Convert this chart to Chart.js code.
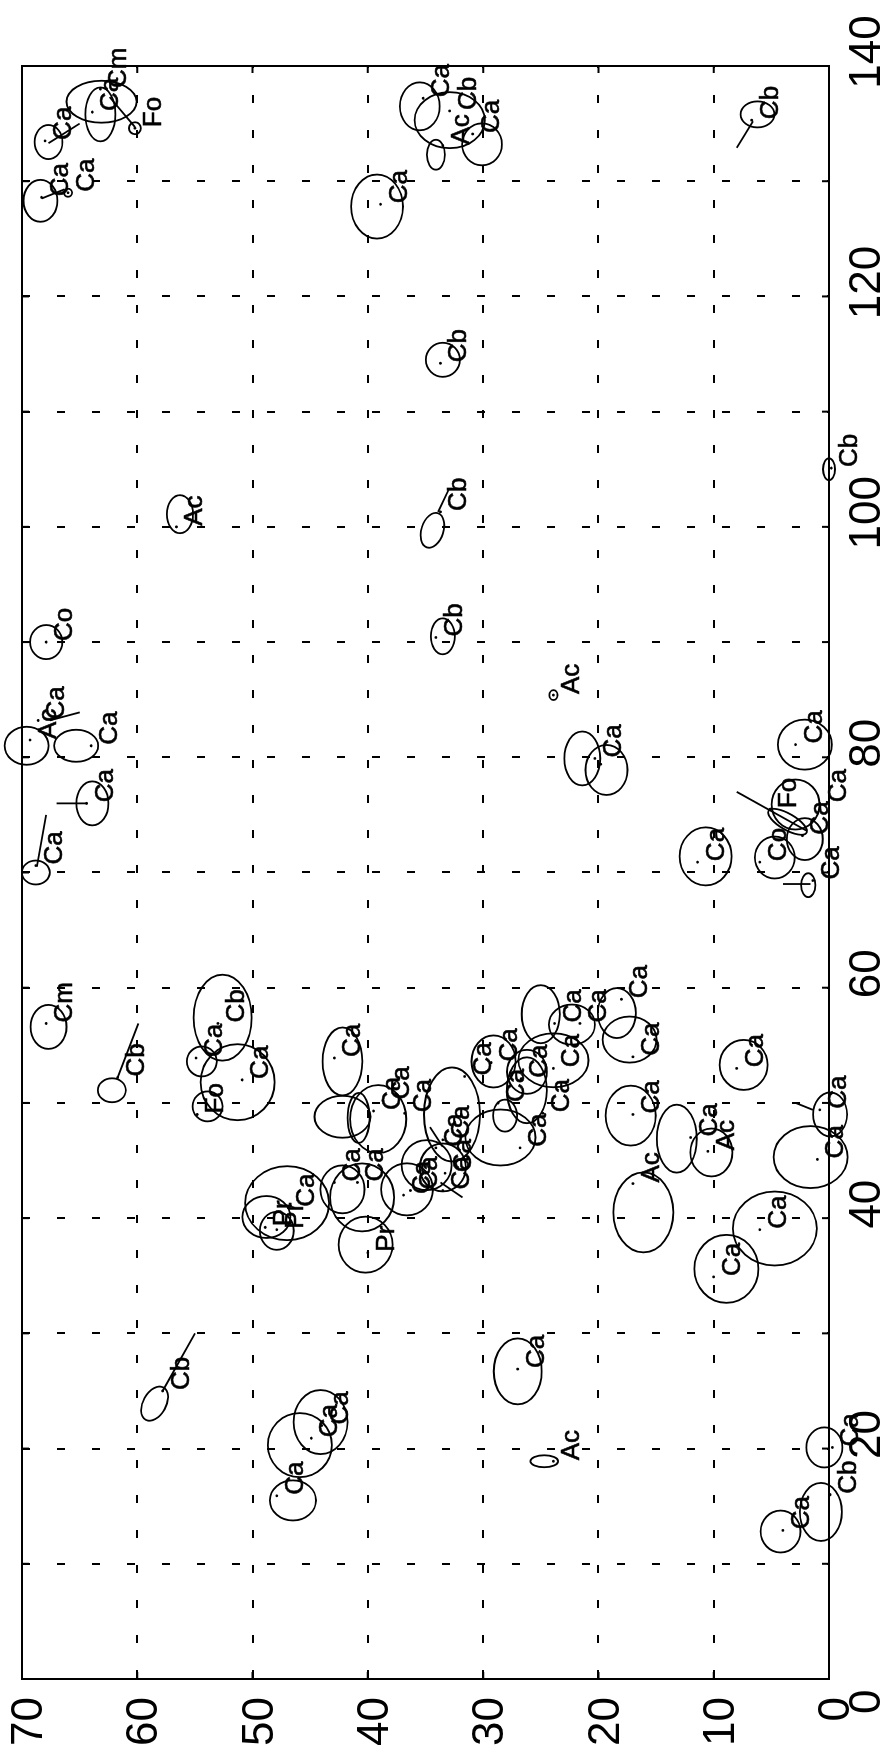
<!DOCTYPE html>
<html>
<head>
<meta charset="utf-8">
<script src="https://cdn.jsdelivr.net/npm/chart.js@4.4.1/dist/chart.umd.min.js"></script>
<style>
  html, body { margin: 0; padding: 0; background: #fff; overflow: hidden; }
  body { width: 889px; height: 1753px; position: relative; }
  /* the plot is drawn upright and turned a quarter turn, like the scanned figure */
  #wrap { position: absolute; left: 0; top: 0; width: 1753px; height: 889px;
          transform-origin: 0 0; transform: translate(0px, 1753px) rotate(-90deg); }
</style>
</head>
<body>
<div id="wrap"><canvas id="chart" width="1753" height="889"></canvas></div>
<script>
// storm centres: label, x (0-140), y (0-70)
const stormLabels = [
  'Cm','Ca','Fo','Ca','Ca','Ca','Ca',
  'Ca','Cb','Ca','Ac','Cb','Cb',
  'Ac','Cb','Co','Cb','Ac','Ca','Ca','Ca','Ca','Ac',
  'Ca','','Ca','Fo','Ca','Ca','Co','Ca','Ca',
  'Cm','Cb','Cb','Ca','Ca','Fo','Ca','Ca','Ca','Ca','Ca','Pr','Pr','Pr','Ca','Ca','Ca',
  'Ca','Ca','Ca','Ca','Ca','Ca','Ca','Ac','Ac','Ca','Ca','Ca','Ca',
  'Ca','Ca','Ca','Ca','Ca','Ca','Ca','Ca','Ca','Ca','Ca','Ca',
  'Cb','Ca','Ca','Ca','Ca','Ac','Ca','Cb','Ca','Cb'
];
const stormX = [
  138.0,136.0,134.6,133.5,128.6,129.0,128.0,
  137.2,136.1,134.1,133.1,135.3,114.2,
  100.0,101.3,90.0,90.4,81.5,83.2,81.0,76.0,70.6,85.4,
  79.9,79.4,81.1,75.5,76.0,73.2,70.9,69.3,70.9,
  56.9,52.2,56.9,53.9,52.0,49.0,53.9,49.3,50.2,49.1,40.9,39.2,39.0,37.0,43.1,43.1,42.0,
  56.9,56.9,59.0,54.0,53.0,49.0,47.0,45.8,43.0,49.4,45.1,39.0,34.9,
  53.0,53.5,52.3,52.1,50.0,49.1,46.1,46.1,46.8,43.9,42.4,42.4,
  25.0,22.0,20.9,15.9,26.9,18.9,20.1,16.0,12.9,105.1
];
const stormY = [
  63.2,63.9,60.2,68.0,68.3,66.0,38.9,
  35.2,32.9,30.9,33.5,6.7,33.7,
  56.6,33.7,67.9,34.1,69.3,68.6,64.0,64.4,68.8,23.9,
  20.3,19.8,2.9,5.1,0.8,2.3,6.0,1.4,11.4,
  67.9,61.7,53.0,54.9,50.9,54.8,42.9,39.5,38.7,36.8,46.9,48.9,47.9,40.0,42.9,40.9,36.9,
  23.8,21.6,18.0,17.0,8.0,17.0,12.0,10.5,17.0,0.8,1.0,6.0,10.0,
  23.9,29.3,31.6,26.7,28.7,24.8,26.8,34.1,33.5,33.3,36.3,33.5,
  57.8,44.0,44.9,47.9,27.0,23.9,-0.3,-0.1,4.0,-0.2
];

// outline of each storm: centre, half-widths in data units, tilt (deg)
const outlineX = [
  136.9,135.8,134.6,133.4,128.3,129.0,127.8,
  136.5,135.3,133.2,132.3,135.8,114.5,
  101.1,99.7,90.0,90.5,81.0,null,81.0,76.0,70.0,85.4,
  79.9,78.9,81.1,74.4,75.9,72.9,71.3,68.9,71.4,
  56.6,51.1,57.4,53.6,51.8,49.7,53.6,48.8,48.7,48.6,41.3,40.1,38.9,37.7,42.5,41.8,42.5,
  57.7,56.8,57.8,55.5,53.3,48.9,46.9,45.7,40.5,49.0,45.3,39.1,35.6,
  53.7,53.6,49.0,52.7,48.9,51.1,47.0,null,null,44.4,44.6,null,
  23.9,22.3,20.3,15.5,26.7,18.9,20.1,14.5,12.8,105.0
];
const outlineY = [
  63.1,63.2,60.2,67.7,68.4,66.0,39.2,
  35.5,32.9,30.1,34.1,6.2,33.5,
  56.3,34.4,67.9,33.5,69.6,null,65.3,63.9,68.8,23.9,
  21.4,19.3,2.1,3.6,2.9,2.1,4.7,1.8,10.7,
  67.7,62.2,52.6,54.4,51.3,53.9,42.2,42.2,40.8,39.1,47.0,48.8,47.9,40.2,42.2,40.5,36.6,
  25.0,22.3,18.4,17.3,7.4,17.2,13.2,10.2,16.1,-0.1,1.6,4.7,8.9,
  23.9,29.1,32.7,26.2,28.1,26.2,28.5,null,null,33.5,34.9,null,
  58.5,44.1,45.9,46.5,27.0,24.7,0.4,0.7,4.2,0.0
];
const outlineHalfX = [
  1.82,2.34,0.52,1.48,1.82,0.35,2.78,
  2.08,2.43,1.82,1.30,1.13,1.48,
  1.65,1.56,1.48,1.56,1.65,null,1.39,1.91,1.04,0.43,
  2.34,2.17,2.17,1.90,2.17,1.82,1.82,1.04,2.52,
  1.91,1.04,3.73,1.30,3.30,1.30,2.95,1.82,2.17,2.95,3.21,1.82,1.65,2.43,2.08,2.95,2.26,
  2.52,1.74,2.17,2.00,2.17,2.60,2.95,2.08,3.47,1.91,2.69,3.21,2.95,
  2.34,2.26,4.08,1.91,1.39,2.86,2.43,null,null,2.08,2.17,null,
  1.60,2.78,2.78,1.74,2.86,0.52,1.74,2.52,1.82,0.95
];
const outlineHalfY = [
  3.04,1.30,0.52,1.21,1.47,0.35,2.25,
  1.73,3.04,1.73,0.78,1.47,1.47,
  1.13,0.95,1.39,1.04,1.91,null,1.91,1.39,1.21,0.35,
  1.56,1.82,2.34,0.70,2.08,1.56,1.73,0.61,2.25,
  1.56,1.21,2.52,1.30,3.21,1.30,1.73,2.43,0.95,2.43,3.64,2.08,1.47,2.34,1.91,2.78,2.25,
  1.65,2.00,1.65,2.34,2.08,2.17,1.73,1.82,2.60,1.47,3.21,3.64,2.78,
  3.04,1.91,2.43,1.73,1.04,1.73,3.04,null,null,2.00,2.17,null,
  1.00,2.34,2.78,2.00,2.08,1.21,1.56,1.82,1.73,0.52
];
const outlineTilt = [
  0,0,0,0,0,0,0,
  0,0,0,0,0,0,
  0,18,0,0,0,0,0,0,0,0,
  0,0,0,120,0,0,0,0,0,
  0,0,0,0,0,0,0,0,0,0,0,0,0,0,0,0,0,
  0,0,0,0,0,0,0,0,0,0,0,0,0,
  0,0,0,0,0,0,0,0,0,0,0,0,
  29,0,0,0,0,0,0,0,0,0
];

// motion tails
const tailX1 = [137.3,133.3,128.5,135.2,101.3,83.2,76.0,70.5,77.0,69.0,52.2,50.0,47.9,43.1,25.0];
const tailY1 = [62.4,67.7,68.3,6.6,33.9,67.6,67.0,68.7,8.0,4.0,61.7,2.9,34.6,33.7,57.8];
const tailX2 = [134.7,135.0,129.3,132.9,103.2,83.9,76.0,75.0,73.6,69.0,56.9,49.4,46.2,41.8,30.0];
const tailY2 = [60.2,65.0,66.3,8.0,33.0,65.0,64.3,67.9,1.9,1.6,59.9,1.4,33.5,31.8,55.0];

const FONT = '"Liberation Sans", Arial, Helvetica, sans-serif';

const stormPlugin = {
  id: 'storms',
  afterDatasetsDraw(chart) {
    const { ctx, scales: { x, y } } = chart;
    const kx = Math.abs(x.getPixelForValue(1) - x.getPixelForValue(0));
    const ky = Math.abs(y.getPixelForValue(1) - y.getPixelForValue(0));
    ctx.save();
    ctx.strokeStyle = '#000';
    ctx.lineWidth = 1.8;

    outlineX.forEach((cx, i) => {
      if (cx === null) return;
      ctx.beginPath();
      ctx.ellipse(x.getPixelForValue(cx), y.getPixelForValue(outlineY[i]),
        outlineHalfX[i] * kx, outlineHalfY[i] * ky,
        outlineTilt[i] * Math.PI / 180, 0, Math.PI * 2);
      ctx.stroke();
    });

    tailX1.forEach((tx, i) => {
      ctx.beginPath();
      ctx.moveTo(x.getPixelForValue(tx), y.getPixelForValue(tailY1[i]));
      ctx.lineTo(x.getPixelForValue(tailX2[i]), y.getPixelForValue(tailY2[i]));
      ctx.stroke();
    });

    // labels sit just right of and below the centre (before the page turn)
    ctx.fillStyle = '#000';
    ctx.lineWidth = 0.6;
    ctx.font = '26px ' + FONT;
    ctx.textAlign = 'left';
    ctx.textBaseline = 'alphabetic';
    stormLabels.forEach((t, i) => {
      if (!t) return;
      const px = x.getPixelForValue(stormX[i]) + 1;
      const py = y.getPixelForValue(stormY[i]) + 26;
      ctx.fillText(t, px, py);
      ctx.strokeText(t, px, py);
    });
    ctx.restore();
  },
  afterDraw(chart) {
    const { ctx, chartArea: a, scales: { x, y } } = chart;
    ctx.save();
    ctx.strokeStyle = '#000';
    ctx.lineWidth = 2;
    ctx.strokeRect(a.left, a.top, a.right - a.left, a.bottom - a.top);
    // inward tick marks on all four sides
    ctx.beginPath();
    x.ticks.forEach(t => {
      const px = x.getPixelForValue(t.value);
      ctx.moveTo(px, a.bottom); ctx.lineTo(px, a.bottom - 7);
      ctx.moveTo(px, a.top); ctx.lineTo(px, a.top + 7);
    });
    y.ticks.forEach(t => {
      const py = y.getPixelForValue(t.value);
      ctx.moveTo(a.left, py); ctx.lineTo(a.left + 7, py);
      ctx.moveTo(a.right, py); ctx.lineTo(a.right - 7, py);
    });
    ctx.stroke();
    ctx.restore();
  }
};

new Chart(document.getElementById('chart'), {
  type: 'scatter',
  data: {
    datasets: [{
      data: stormX.map((v, i) => ({ x: v, y: stormY[i] })),
      pointRadius: 1.4,
      pointBackgroundColor: '#000',
      pointBorderWidth: 0,
      clip: false
    }]
  },
  options: {
    responsive: false,
    animation: false,
    devicePixelRatio: 1,
    layout: { autoPadding: false, padding: { left: 0, right: 66, top: 22, bottom: 0 } },
    plugins: { legend: { display: false }, tooltip: { enabled: false } },
    scales: {
      x: {
        type: 'linear', position: 'bottom', min: 0, max: 140,
        afterFit: s => { s.height = 60; s.paddingLeft = 0; s.paddingRight = 0; },
        ticks: {
          stepSize: 10, autoSkip: false, maxRotation: 0, minRotation: 0,
          padding: 12, labelOffset: 14, color: '#000',
          font: { family: FONT, size: 44 },
          // the 0 sits a little past the corner in the original, trailing blanks push it over
          callback: v => (v === 0 ? '0      ' : v % 20 === 0 ? String(v) : '')
        },
        grid: { color: '#000', lineWidth: 2, drawTicks: false },
        border: { display: true, color: '#000', width: 2, dash: [8, 27] }
      },
      y: {
        type: 'linear', position: 'left', min: 0, max: 70,
        afterFit: s => { s.width = 74; s.paddingTop = 0; s.paddingBottom = 0; },
        ticks: {
          stepSize: 10, autoSkip: false, padding: 18, labelOffset: 8, color: '#000',
          font: { family: FONT, size: 44 }
        },
        grid: { color: '#000', lineWidth: 2, drawTicks: false },
        border: { display: true, color: '#000', width: 2, dash: [8, 27] }
      }
    }
  },
  plugins: [stormPlugin]
});
</script>
</body>
</html>
